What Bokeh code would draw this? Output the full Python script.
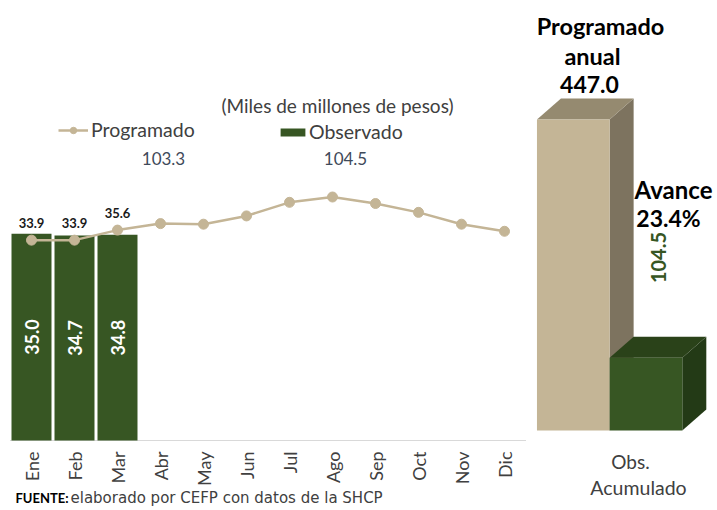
import math
from bokeh.plotting import figure
from bokeh.models import Range1d, Label, Legend, LegendItem
from bokeh.core.properties import value
from bokeh.embed import file_html
from bokeh.resources import INLINE

# ---------------- data ----------------
months = ["Ene", "Feb", "Mar", "Abr", "May", "Jun", "Jul", "Ago", "Sep", "Oct", "Nov", "Dic"]
programado = [33.9, 33.9, 35.6, 36.7, 36.6, 38.0, 40.3, 41.2, 40.1, 38.6, 36.6, 35.4]
observado = [35.0, 34.7, 34.8]
acum_labels = ["Programado anual", "Obs. Acumulado"]
acum_values = [447.0, 104.5]
prog_acum_text = "103.3"
obs_acum_text = "104.5"
avance_text = "23.4%"

FONT = "Lato"
TAN = "#C4B596"
GREEN = "#375623"
GRAY = "#404040"

W, H = 717, 510
PX_X = 43.0      # pixels per month
X0 = 31.0        # pixel of first month centre
PX_Y = 5.91      # pixels per unit (monthly)
BASE = 440.0     # pixel of monthly baseline
PX_A = 0.6957    # pixels per unit (accumulated)
BASE_A = 430.0   # pixel of accumulated baseline

p = figure(width=W, height=H,
           x_range=Range1d(-X0 / PX_X, (W - X0) / PX_X),
           y_range=Range1d((BASE - H) / PX_Y, BASE / PX_Y),
           output_backend="svg", toolbar_location=None,
           x_axis_location=None, y_axis_location=None,
           min_border_left=0, min_border_right=0, min_border_top=0, min_border_bottom=0)
p.extra_y_ranges = {"acum": Range1d((BASE_A - H) / PX_A, BASE_A / PX_A)}
p.xgrid.visible = False
p.ygrid.visible = False
p.outline_line_color = None


def X(xr):
    return (xr - X0) / PX_X


def Y(yr):
    return (BASE - yr) / PX_Y


# baseline
p.segment(x0=[-0.5], y0=[0], x1=[len(months) - 0.5], y1=[0], line_color="#D9D9D9", line_width=1)

# month labels (category axis)
xs_m = list(range(len(months)))
p.text(x=xs_m, y=[Y(451)] * len(months), text=months, angle=math.pi / 2, text_align="right",
       text_baseline="middle", text_font=value(FONT), text_font_size="18px", text_color=GRAY)

# observed bars
xs_obs = list(range(len(observado)))
bar_r = p.vbar(x=xs_obs, top=observado, bottom=0, width=0.93, fill_color=GREEN, line_color=None)
p.text(x=xs_obs, y=[v / 2 for v in observado], text=[f"{v:.1f}" for v in observado], angle=math.pi / 2,
       text_align="center", text_baseline="middle", text_font=value(FONT), text_font_style="bold",
       text_font_size="18px", text_color="white")

# programmed line
line_r = p.line(x=xs_m, y=programado, line_color=TAN, line_width=2.5)
sc_r = p.scatter(x=xs_m, y=programado, size=10, fill_color=TAN, line_color=TAN)
p.text(x=xs_obs, y=programado[:len(observado)], text=[f"{v:.1f}" for v in programado[:len(observado)]],
       y_offset=-17, text_align="center", text_baseline="middle", text_font=value(FONT),
       text_font_style="bold", text_font_size="13px", text_color="#1a1a1a")

# ---------------- accumulated 3D bars ----------------
w = 1.69
c0 = 12.6
centers = [c0, c0 + w]
dx = 0.558
dy = 30.2
front_cols = [TAN, GREEN]
top_cols = ["#958A70", "#2A4219"]
side_cols = ["#7D735F", "#233A16"]
for c, v, fc, tc, scol in zip(centers, acum_values, front_cols, top_cols, side_cols):
    l, r = c - w / 2, c + w / 2
    p.patch(x=[r, r + dx, r + dx, r], y=[v, v + dy, dy, 0], fill_color=scol, line_color=None, y_range_name="acum")
    p.patch(x=[l, l + dx, r + dx, r], y=[v, v + dy, v + dy, v], fill_color=tc, line_color=None, y_range_name="acum")
    p.vbar(x=[c], top=[v], bottom=0, width=w, fill_color=fc, line_color=None, y_range_name="acum")

# ---------------- legends ----------------
leg1 = Legend(items=[LegendItem(label="Programado", renderers=[line_r, sc_r])], location=(58, 369),
              orientation="horizontal", glyph_width=30, glyph_height=16, label_height=16, label_standoff=3,
              padding=0, margin=0, border_line_color=None, background_fill_alpha=0,
              label_text_font=FONT, label_text_font_size="19.5px", label_text_color=GRAY)
leg2 = Legend(items=[LegendItem(label="Observado", renderers=[bar_r])], location=(277, 367),
              orientation="horizontal", glyph_width=31, glyph_height=10, label_height=16, label_standoff=1,
              padding=0, margin=0, border_line_color=None, background_fill_alpha=0,
              label_text_font=FONT, label_text_font_size="19.5px", label_text_color=GRAY)
p.add_layout(leg1, "center")
p.add_layout(leg2, "center")


def lab(text, xr, yr, size, color=GRAY, style="normal", align="center", angle=0, font=FONT):
    p.add_layout(Label(x=X(xr), y=Y(yr), text=text, text_font=font, text_font_size=size, text_color=color,
                       text_font_style=style, text_align=align, text_baseline="middle", angle=angle))


lab("(Miles de millones de pesos)", 337, 105, "19px")
lab(prog_acum_text, 163, 158, "17px", color="#3F4A5A")
lab(obs_acum_text, 345, 158, "17px", color="#3F4A5A")

lab("Programado", 600, 25, "23.5px", color="black", style="bold")
lab("anual", 592, 55, "23.5px", color="black", style="bold")
lab(f"{acum_values[0]:.1f}", 589, 84, "23px", color="black", style="bold")
lab("Avance", 673, 189, "24px", color="black", style="bold")
lab(avance_text, 668, 217, "23px", color="black", style="bold")
lab(f"{acum_values[1]:.1f}", 658, 257, "20px", color=GREEN, style="bold", angle=math.pi / 2)
lab("Obs.", 630, 461, "19px")
lab("Acumulado", 638, 487, "19.5px")

lab("FUENTE:", 15, 497, "13px", color="black", style="bold", align="left")
lab("elaborado por CEFP con datos de la SHCP", 70, 497, "15px", align="left", font="DejaVu Sans")

open("out.html", "w").write(file_html(p, INLINE))
